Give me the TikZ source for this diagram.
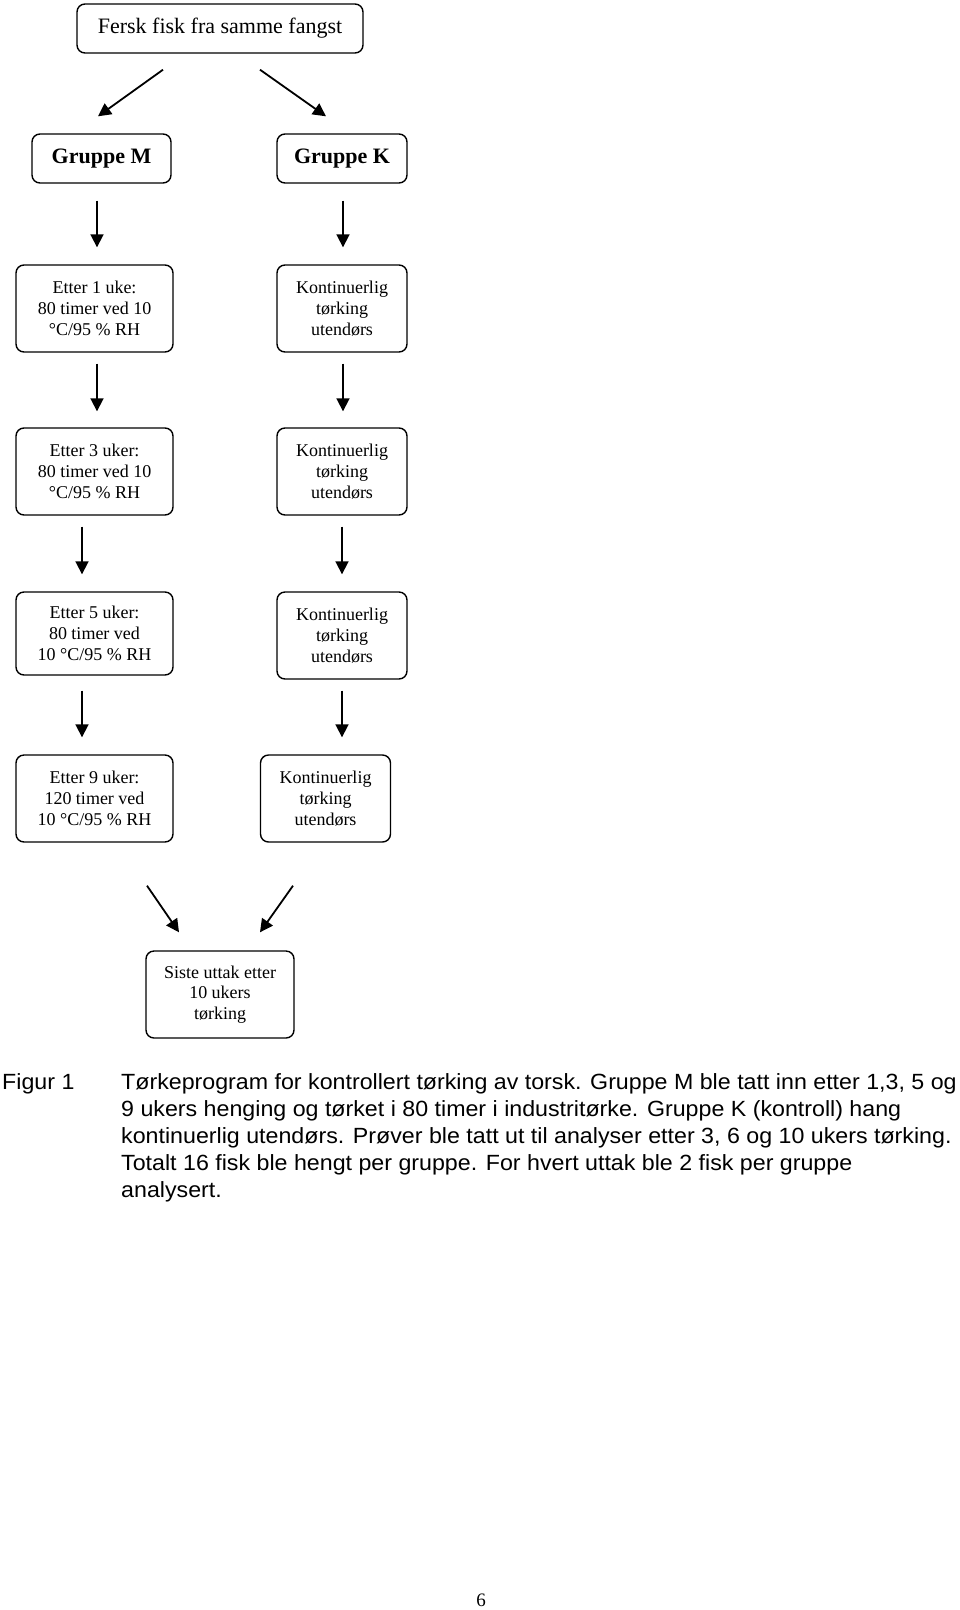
\documentclass[tikz,border=0pt]{standalone}
\usepackage{fontspec}
\setmainfont{Liberation Serif}
\newfontfamily\capfont[FakeStretch=1.055]{Liberation Sans}
\usetikzlibrary{arrows.meta}
\tikzset{
    >={Triangle[length=13pt,width=13pt]}, % Default arrow tip
    box/.style={draw, line width=1.4pt, rounded corners=8pt, align=center,
        inner sep=0pt, font=\fontsize{18}{20.7}\selectfont},
    wide/.style={box, minimum width=157pt, minimum height=87pt},
    narrow/.style={box, minimum width=130pt, minimum height=87pt},
    big/.style={box, minimum height=49pt, font=\fontsize{22}{26}\selectfont},
    pil/.style={->, line width=1.8pt},
}
\def\m{94.5}
\def\k{342}

\begin{document}
\begin{tikzpicture}[x=1pt, y=-1pt]
    \useasboundingbox (0,0) rectangle (960,1610);
    \draw
        node[big, minimum width=286pt] (fersk) at (220, 28.5) {Fersk fisk fra samme fangst}
        node[big, minimum width=139pt, font=\fontsize{22}{26}\selectfont\bfseries] (grpM) at (101.5, 158.5) {Gruppe M}
        node[big, minimum width=130pt, font=\fontsize{22}{26}\selectfont\bfseries] (grpK) at (\k, 158.5) {Gruppe K}
        node[wide] (e1) at (\m, 308.5) {Etter 1 uke:\\80 timer ved 10\\°C/95 \% RH}
        node[narrow] (k1) at (\k, 308.5) {Kontinuerlig\\tørking\\utendørs}
        node[wide] (e3) at (\m, 471.5) {Etter 3 uker:\\80 timer ved 10\\°C/95 \% RH}
        node[narrow] (k2) at (\k, 471.5) {Kontinuerlig\\tørking\\utendørs}
        node[wide, minimum height=83pt] (e5) at (\m, 633.5) {Etter 5 uker:\\80 timer ved\\10 °C/95 \% RH}
        node[narrow] (k3) at (\k, 635.5) {Kontinuerlig\\tørking\\utendørs}
        node[wide] (e9) at (\m, 798.5) {Etter 9 uker:\\120 timer ved\\10 °C/95 \% RH}
        node[narrow] (k4) at (325.5, 798.5) {Kontinuerlig\\tørking\\utendørs}
        node[box, minimum width=148pt, minimum height=87pt] (siste) at (220, 994.5) {Siste uttak etter\\10 ukers\\tørking}
    ;
    \path
        [pil]
        ([xshift=-57pt, yshift=-16pt]fersk.south) edge ([xshift=-3.5pt, yshift=17pt]grpM.north)
        ([xshift=40pt, yshift=-16pt]fersk.south) edge ([xshift=-16pt, yshift=17pt]grpK.north)
        ([xshift=-4.5pt, yshift=-17pt]grpM.south) edge ([xshift=2.5pt, yshift=17pt]e1.north)
        ([xshift=1pt, yshift=-17pt]grpK.south) edge ([xshift=1pt, yshift=17pt]k1.north)
        ([xshift=2.5pt, yshift=-11pt]e1.south) edge ([xshift=2.5pt, yshift=16pt]e3.north)
        ([xshift=1pt, yshift=-11pt]k1.south) edge ([xshift=1pt, yshift=16pt]k2.north)
        ([xshift=-12.5pt, yshift=-11pt]e3.south) edge ([xshift=-12.5pt, yshift=17pt]e5.north)
        ([yshift=-11pt]k2.south) edge ([yshift=17pt]k3.north)
        ([xshift=-12.5pt, yshift=-15pt]e5.south) edge ([xshift=-12.5pt, yshift=17pt]e9.north)
        ([yshift=-11pt]k3.south) edge ([xshift=16.5pt, yshift=17pt]k4.north)
        ([xshift=52.5pt, yshift=-43pt]e9.south) edge ([xshift=-41pt, yshift=18pt]siste.north)
        ([xshift=-32.5pt, yshift=-43pt]k4.south) edge ([xshift=40pt, yshift=18pt]siste.north)
    ;

    % figurtekst
    \draw
        node[anchor=north west, inner sep=0pt, font=\capfont\fontsize{22}{27}\selectfont] (fig) at (2, 1073) {Figur 1}
        node[anchor=north west, inner sep=0pt, align=left, font=\capfont\fontsize{22}{27}\selectfont] (tekst) at (121, 1073)
            {Tørkeprogram for kontrollert tørking av torsk. Gruppe M ble tatt inn etter 1,3, 5 og\\
             9 ukers henging og tørket i 80 timer i industritørke. Gruppe K (kontroll) hang\\
             kontinuerlig utendørs. Prøver ble tatt ut til analyser etter 3, 6 og 10 ukers tørking.\\
             Totalt 16 fisk ble hengt per gruppe. For hvert uttak ble 2 fisk per gruppe\\
             analysert.}
        node[inner sep=0pt, font=\fontsize{19}{22}\selectfont] (side) at (481, 1600) {6}
    ;
\end{tikzpicture}
\end{document}
